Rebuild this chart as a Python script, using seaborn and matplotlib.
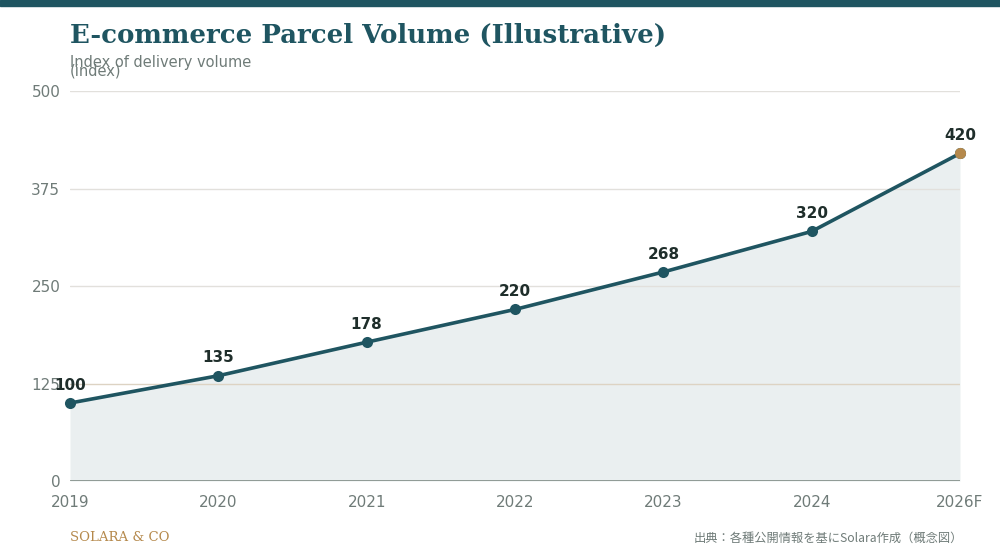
import matplotlib
matplotlib.use("Agg")
import matplotlib.pyplot as plt
import seaborn as sns
import pandas as pd

# ---------------------------------------
# Data
# ---------------------------------------
years = ["2019", "2020", "2021", "2022", "2023", "2024", "2026F"]
volume = [100, 135, 178, 220, 268, 320, 420]
y_ticks = [0, 125, 250, 375, 500]

df = pd.DataFrame({"year": years, "volume": volume})

TEAL = "#1f5561"
GOLD = "#b5894c"
GRAY = "#6f7b78"

sns.set_theme(style="white")
plt.rcParams["font.family"] = "DejaVu Sans"

fig = plt.figure(figsize=(10, 5.6), dpi=100)
ax = fig.add_axes([0.07, 0.141, 0.89, 0.6965])

# fill + line
ax.fill_between(df["year"], df["volume"], 0, color=TEAL, alpha=0.09, lw=0, zorder=1)
sns.lineplot(data=df, x="year", y="volume", ax=ax, color=TEAL, lw=2.6,
             marker="o", markersize=8, markeredgewidth=0, zorder=3, clip_on=False)
ax.scatter(df["year"].iloc[-1], df["volume"].iloc[-1], s=64, color=GOLD, zorder=4,
           lw=0, clip_on=False)

for x, v in zip(df["year"], df["volume"]):
    ax.annotate(str(v), (x, v), xytext=(0, 7.5), textcoords="offset points",
                ha="center", va="bottom", fontsize=11, fontweight="bold",
                color="#1f2e2b", zorder=5)

# grid
for t in y_ticks[1:]:
    c = "#ddd3c3" if t == 125 else "#e2e0dc"
    ax.axhline(t, color=c, lw=1, zorder=2)
ax.axhline(0, color="#87928d", lw=2, zorder=3)

ax.set_ylim(0, 500)
ax.set_xlim(-0.0, len(years) - 1)
ax.set_yticks(y_ticks)
ax.tick_params(axis="both", length=0, labelsize=11, labelcolor=GRAY)
ax.tick_params(axis="x", pad=10)
ax.tick_params(axis="y", pad=7)
ax.set_xlabel("")
ax.set_ylabel("")
for s in ax.spines.values():
    s.set_visible(False)

# titles and footer
fig.patches.append(plt.Rectangle((0, 554 / 560), 1, 6 / 560, transform=fig.transFigure,
                                 color=TEAL, zorder=0))
fig.text(0.07, 0.937, "E-commerce Parcel Volume (Illustrative)", family="DejaVu Serif",
         fontweight="bold", fontsize=18.7, color=TEAL, ha="left", va="center")
fig.text(0.07, 0.881, "Index of delivery volume\n(index)", fontsize=10.5, color=GRAY,
         ha="left", va="center", linespacing=0.45)
fig.text(0.07, 0.04, "SOLARA & CO", family="DejaVu Serif", fontsize=9.5, color=GOLD,
         ha="left", va="center")
fig.text(0.963, 0.039, "出典：各種公開情報を基にSolara作成（概念図）",
         family=["Noto Sans CJK JP", "DejaVu Sans"], fontsize=8.8, color=GRAY,
         ha="right", va="center")

fig.savefig("out.png", dpi=100)
